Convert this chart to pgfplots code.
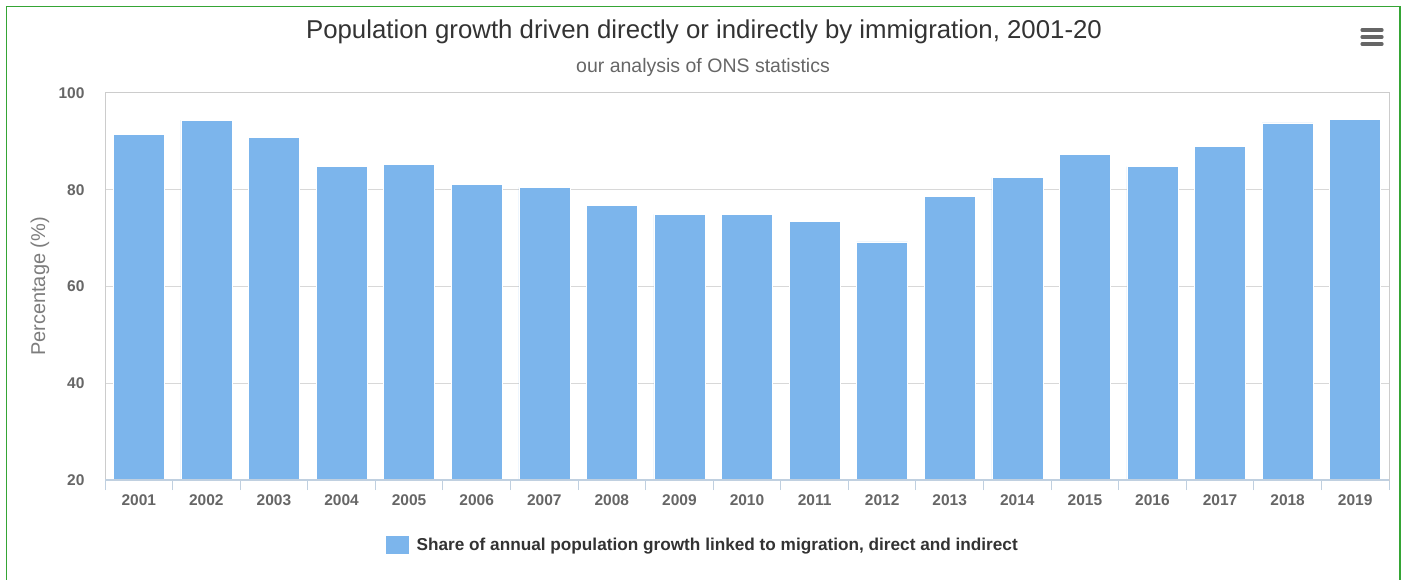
\documentclass[border=0pt]{standalone}
\usepackage{pgfplots}
\pgfplotsset{compat=1.18}
\usepackage{fontspec}
\setmainfont{Liberation Sans}
\definecolor{barblue}{HTML}{7CB5EC}
\definecolor{gridgray}{HTML}{D8D8D8}
\definecolor{framegray}{HTML}{CCCCCC}
\definecolor{axisblue}{HTML}{C0D0E0}
\definecolor{labelgray}{HTML}{666666}
\definecolor{titlegray}{HTML}{333333}
\definecolor{bordergreen}{HTML}{35A535}
\begin{document}
\begin{tikzpicture}
\useasboundingbox (0pt,0pt) rectangle (1405pt,579pt);
\begin{scope}
\clip (0pt,0pt) rectangle (1405pt,579pt);
\draw[bordergreen, line width=1.5pt] (6.5pt,-5pt) rectangle (1400pt,572.5pt);
\end{scope}
\node[font=\fontsize{25.8}{30}\selectfont, text=titlegray] at (704pt,547pt) {Population growth driven directly or indirectly by immigration, 2001-20};
\node[font=\fontsize{19.5}{23}\selectfont, text=labelgray] at (703pt,512pt) {our analysis of ONS statistics};
\foreach \yy in {549,542,535} {
  \draw[labelgray, line width=3.2pt, line cap=round] (1362pt,\yy pt) -- (1382pt,\yy pt);
}
\begin{axis}[
  at={(105pt,99pt)}, anchor=south west,
  scale only axis, width=1284pt, height=387pt,
  xmin=-0.5, xmax=18.5, ymin=20, ymax=100,
  ytick={20,40,60,80,100},
  xtick={0,...,18},
  xticklabels={2001,2002,2003,2004,2005,2006,2007,2008,2009,2010,2011,2012,2013,2014,2015,2016,2017,2018,2019},
  minor xtick={-0.5,0.5,...,18.5},
  major tick length=0pt,
  minor tick length=10pt,
  tick align=outside,
  tick pos=left,
  x tick style={draw=none},
  minor x tick style={draw=axisblue, line width=1pt},
  y tick style={draw=none},
  ymajorgrids, grid style={draw=gridgray, line width=1pt},
  axis line style={draw=framegray, line width=1pt},
  /pgf/number format/assume math mode=true,
  ticklabel style={font=\bfseries\fontsize{15.5}{18}\selectfont, text=labelgray},
  xticklabel style={yshift=-11pt},
  yticklabel style={xshift=-17pt},
  ylabel={Percentage (\%)},
  ylabel style={font=\fontsize{20}{24}\selectfont, text=labelgray!85},
  every axis y label/.append style={at={(ticklabel cs:0.5)}, yshift=2.5pt},
  legend style={at={(0.4657,-0.168)}, anchor=center, draw=none, fill=none,
    font=\bfseries\fontsize{17.2}{20}\selectfont, text=titlegray},
  legend image code/.code={\fill[barblue] (0pt,-8.5pt) rectangle (22pt,8.5pt);},
  clip=true,
]
\addplot[ybar, bar width=51pt, fill=barblue, draw=white, line width=0.5pt] coordinates {
  (0,91.5) (1,94.4) (2,90.9) (3,84.8) (4,85.2) (5,81.1) (6,80.5) (7,76.7) (8,74.9) (9,74.9)
  (10,73.4) (11,69.2) (12,78.6) (13,82.5) (14,87.3) (15,84.8) (16,89.0) (17,93.8) (18,94.6)
};
\addlegendentry{\hspace*{6pt}Share of annual population growth linked to migration, direct and indirect}
\draw[axisblue, line width=1.2pt] (rel axis cs:0,0) -- (rel axis cs:1,0);
\end{axis}
\end{tikzpicture}
\end{document}
